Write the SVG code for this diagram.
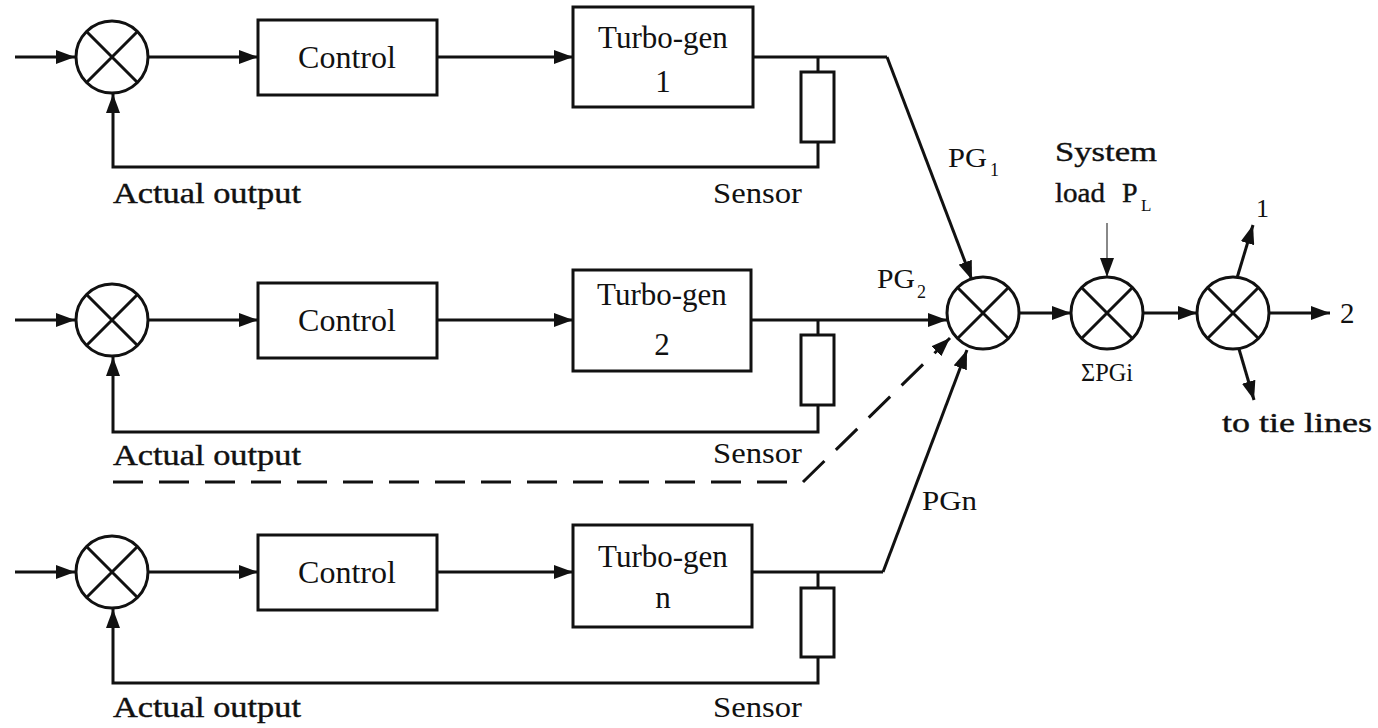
<svg xmlns="http://www.w3.org/2000/svg" width="1378" height="728" viewBox="0 0 1378 728">
<defs>
<style>
.ln{fill:none;stroke:#111;stroke-width:3}
.bx{fill:#fff;stroke:#111;stroke-width:3}
.t{font-family:"Liberation Serif",serif;fill:#111}
.c{text-anchor:middle}
.arr{marker-end:url(#ah)}
.hv{stroke:#111;stroke-width:0.4}
</style>
<marker id="ah" markerUnits="userSpaceOnUse" markerWidth="20" markerHeight="14" refX="19" refY="7" orient="auto">
<path d="M0,0 L19,7 L0,14 z" fill="#111"/>
</marker>
<g id="sj">
<circle cx="0" cy="0" r="36" fill="#fff" stroke="#111" stroke-width="3"/>
<path d="M-25.5,-25.5 L25.5,25.5 M25.5,-25.5 L-25.5,25.5" stroke="#111" stroke-width="3"/>
</g>
</defs>
<rect width="1378" height="728" fill="#fff"/>

<g id="connectors">
<path class="ln arr" d="M15,57 H75"/>
<path class="ln arr" d="M149,57 H258"/>
<path class="ln arr" d="M437,57 H573"/>
<path class="ln" d="M753,57 H887"/>
<path class="ln arr" d="M887,57 L972,280"/>
<path class="ln" d="M818,57 V72"/>
<path class="ln arr" d="M818,142 V167 H113 V94"/>
<path class="ln arr" d="M15,320 H75"/>
<path class="ln arr" d="M149,320 H258"/>
<path class="ln arr" d="M437,320 H573"/>
<path class="ln arr" d="M751,320 H947"/>
<path class="ln" d="M818,320 V335"/>
<path class="ln arr" d="M818,405 V432 H113 V357"/>
<path class="ln arr" d="M113,482 H803 L950,338" stroke-dasharray="30 16"/>
<path class="ln arr" d="M15,572 H75"/>
<path class="ln arr" d="M149,572 H258"/>
<path class="ln arr" d="M437,572 H573"/>
<path class="ln" d="M752,572 H883"/>
<path class="ln arr" d="M883,572 L967,350"/>
<path class="ln" d="M818,572 V588"/>
<path class="ln arr" d="M818,657 V683 H113 V609"/>
<path class="ln arr" d="M1019,313 H1071"/>
<path class="ln arr" d="M1143,313 H1197"/>
<path class="ln arr" d="M1269,313 H1330"/>
<path class="ln arr" d="M1237,278 L1253,225"/>
<path class="ln arr" d="M1239,349 L1254,400"/>
<path class="arr" d="M1107,223 V277" fill="none" stroke="#888" stroke-width="2"/>
</g>

<g id="sum1"><use href="#sj" x="112" y="57"/></g>
<g id="control1"><rect class="bx" x="258" y="20" width="179" height="75"/><text class="t c" x="347" y="68" font-size="32">Control</text></g>
<g id="turbo1"><rect class="bx" x="573" y="7" width="180" height="100"/><text class="t c" x="663" y="48" font-size="31">Turbo-gen</text><text class="t c" x="663" y="92" font-size="31">1</text></g>
<g id="sensor1"><rect class="bx" x="801" y="72" width="33" height="70"/></g>
<g id="labels1"><text class="t hv" x="113" y="203" font-size="29" textLength="188" lengthAdjust="spacingAndGlyphs">Actual output</text><text class="t" x="713" y="203" font-size="29" textLength="89" lengthAdjust="spacingAndGlyphs">Sensor</text></g>

<g id="sum2"><use href="#sj" x="112" y="320"/></g>
<g id="control2"><rect class="bx" x="258" y="283" width="179" height="75"/><text class="t c" x="347" y="331" font-size="32">Control</text></g>
<g id="turbo2"><rect class="bx" x="573" y="270" width="178" height="101"/><text class="t c" x="662" y="305" font-size="31">Turbo-gen</text><text class="t c" x="662" y="355" font-size="31">2</text></g>
<g id="sensor2"><rect class="bx" x="801" y="335" width="33" height="70"/></g>
<g id="labels2"><text class="t hv" x="113" y="465" font-size="29" textLength="188" lengthAdjust="spacingAndGlyphs">Actual output</text><text class="t" x="713" y="463" font-size="29" textLength="89" lengthAdjust="spacingAndGlyphs">Sensor</text></g>

<g id="sum3"><use href="#sj" x="112" y="572"/></g>
<g id="control3"><rect class="bx" x="258" y="535" width="179" height="75"/><text class="t c" x="347" y="583" font-size="32">Control</text></g>
<g id="turbo3"><rect class="bx" x="573" y="525" width="179" height="102"/><text class="t c" x="663" y="567" font-size="31">Turbo-gen</text><text class="t c" x="663" y="608" font-size="31">n</text></g>
<g id="sensor3"><rect class="bx" x="801" y="588" width="33" height="69"/></g>
<g id="labels3"><text class="t hv" x="113" y="717" font-size="29" textLength="188" lengthAdjust="spacingAndGlyphs">Actual output</text><text class="t" x="713" y="717" font-size="29" textLength="89" lengthAdjust="spacingAndGlyphs">Sensor</text></g>

<g id="sumPG"><use href="#sj" x="983" y="313"/></g>
<g id="sumLoad"><use href="#sj" x="1107" y="313"/></g>
<g id="sumTie"><use href="#sj" x="1233" y="313"/></g>

<g id="pglabels">
<text class="t" x="948" y="167" font-size="28" textLength="39" lengthAdjust="spacingAndGlyphs">PG</text><text class="t" x="990" y="176" font-size="18">1</text>
<text class="t" x="877" y="288" font-size="28" textLength="38" lengthAdjust="spacingAndGlyphs">PG</text><text class="t" x="917" y="298" font-size="18">2</text>
<text class="t" x="922" y="510" font-size="28" font-family="Liberation Sans, sans-serif" textLength="55" lengthAdjust="spacingAndGlyphs">PGn</text>
<text class="t hv" x="1055" y="161" font-size="28" textLength="102" lengthAdjust="spacingAndGlyphs">System</text>
<text class="t hv" x="1055" y="202" font-size="28" textLength="50" lengthAdjust="spacingAndGlyphs">load</text><text class="t hv" x="1122" y="202" font-size="28">P</text><text class="t" x="1141" y="211" font-size="17">L</text>
<text class="t c" x="1107" y="381" font-size="25" textLength="52" lengthAdjust="spacingAndGlyphs">ΣPGi</text>
<text class="t" x="1256" y="217" font-size="26">1</text>
<text class="t" x="1340" y="323" font-size="29">2</text>
<text class="t hv" x="1222" y="432" font-size="27" textLength="150" lengthAdjust="spacingAndGlyphs">to tie lines</text>
</g>
</svg>
